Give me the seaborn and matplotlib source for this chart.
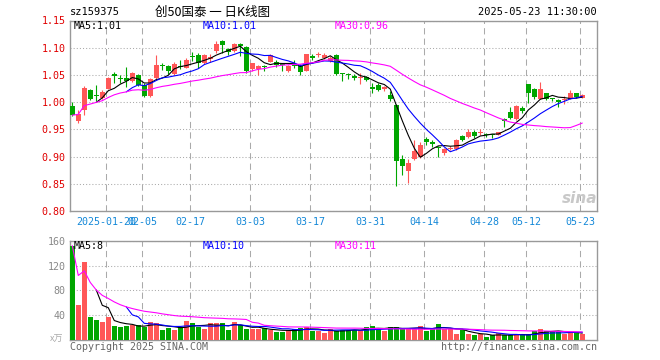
import matplotlib
matplotlib.use("Agg")
import matplotlib.pyplot as plt
import seaborn as sns
import numpy as np
import pandas as pd

# trading days (weekdays minus exchange holidays)
holidays = ["2025-01-28", "2025-01-29", "2025-01-30", "2025-01-31", "2025-02-03",
            "2025-02-04", "2025-04-04", "2025-05-01", "2025-05-02", "2025-05-05"]
dates = [d.strftime("%Y-%m-%d") for d in pd.bdate_range("2025-01-10", "2025-05-23")
         if d.strftime("%Y-%m-%d") not in holidays]

opens = [0.993, 0.965, 0.985, 1.022, 1.014, 1.008, 1.025, 1.051, 1.045, 1.044,
         1.039, 1.049, 1.032, 1.012, 1.044, 1.069, 1.066, 1.051, 1.066, 1.063,
         1.085, 1.086, 1.072, 1.079, 1.094, 1.113, 1.097, 1.094, 1.106, 1.102,
         1.060, 1.060, 1.067, 1.074, 1.074, 1.071, 1.057, 1.069, 1.066, 1.058,
         1.084, 1.086, 1.082, 1.076, 1.086, 1.053, 1.051, 1.048, 1.044, 1.047,
         1.027, 1.031, 1.025, 1.014, 0.994, 0.895, 0.874, 0.895, 0.899, 0.932,
         0.926, 0.918, 0.906, 0.914, 0.913, 0.937, 0.936, 0.945, 0.943, 0.942,
         0.942, 0.940, 0.969, 0.982, 0.969, 0.990, 1.034, 1.025, 1.006, 1.016,
         1.007, 1.004, 1.004, 1.006, 1.016, 1.008]
highs = [1.000, 0.986, 1.029, 1.024, 1.031, 1.022, 1.046, 1.055, 1.049, 1.064,
         1.055, 1.051, 1.036, 1.045, 1.086, 1.072, 1.068, 1.074, 1.077, 1.081,
         1.093, 1.091, 1.089, 1.089, 1.113, 1.114, 1.099, 1.108, 1.109, 1.104,
         1.072, 1.068, 1.068, 1.089, 1.078, 1.072, 1.068, 1.077, 1.070, 1.089,
         1.088, 1.093, 1.090, 1.084, 1.088, 1.054, 1.054, 1.052, 1.054, 1.048,
         1.035, 1.035, 1.029, 1.020, 0.996, 0.902, 0.895, 0.931, 0.926, 0.936,
         0.931, 0.919, 0.915, 0.920, 0.933, 0.939, 0.950, 0.948, 0.950, 0.943,
         0.942, 0.946, 0.971, 0.991, 0.994, 0.992, 1.034, 1.026, 1.037, 1.017,
         1.008, 1.005, 1.012, 1.023, 1.017, 1.015]
lows = [0.975, 0.962, 0.977, 1.004, 1.002, 1.006, 1.024, 1.036, 1.036, 1.028,
        1.037, 1.029, 1.010, 1.010, 1.043, 1.059, 1.052, 1.050, 1.061, 1.062,
        1.075, 1.063, 1.070, 1.073, 1.091, 1.091, 1.086, 1.092, 1.085, 1.054,
        1.057, 1.050, 1.057, 1.073, 1.065, 1.057, 1.056, 1.062, 1.050, 1.057,
        1.077, 1.083, 1.080, 1.074, 1.050, 1.039, 1.042, 1.040, 1.033, 1.038,
        1.017, 1.020, 1.020, 1.003, 0.846, 0.866, 0.851, 0.894, 0.898, 0.921,
        0.918, 0.899, 0.903, 0.912, 0.912, 0.928, 0.935, 0.935, 0.940, 0.936,
        0.934, 0.939, 0.955, 0.969, 0.968, 0.980, 0.999, 1.006, 1.005, 1.004,
        1.002, 0.991, 0.997, 1.005, 1.008, 1.007]
closes = [0.976, 0.979, 1.026, 1.005, 1.012, 1.018, 1.044, 1.048, 1.043, 1.038,
          1.053, 1.031, 1.011, 1.043, 1.069, 1.067, 1.057, 1.070, 1.064, 1.078,
          1.083, 1.072, 1.087, 1.083, 1.107, 1.105, 1.093, 1.106, 1.103, 1.057,
          1.071, 1.066, 1.065, 1.086, 1.069, 1.069, 1.066, 1.067, 1.056, 1.088,
          1.082, 1.088, 1.086, 1.082, 1.052, 1.051, 1.049, 1.044, 1.047, 1.040,
          1.025, 1.022, 1.028, 1.005, 0.892, 0.882, 0.888, 0.910, 0.922, 0.927,
          0.924, 0.915, 0.913, 0.916, 0.931, 0.930, 0.945, 0.938, 0.945, 0.939,
          0.940, 0.945, 0.965, 0.971, 0.993, 0.983, 1.016, 1.010, 1.025, 1.006,
          1.005, 1.000, 1.006, 1.016, 1.010, 1.014]
volumes = [152, 56, 126, 36.8, 32, 28.8, 36.8, 22.4, 20.8, 22.4,
           23.5, 23.5, 21.3, 28.8, 26.7, 16, 19.2, 16, 21.3, 30.4,
           26.7, 21.3, 18.1, 26.7, 26.7, 26.7, 16, 28.8, 23.5, 17,
           17, 17, 19.7, 16, 12.8, 12.8, 16, 18.1, 19.7, 21.3,
           14.4, 14.4, 10.7, 17.9, 14.2, 15.8, 16.8, 16.8, 15.8, 21,
           23, 17.9, 15.3, 21, 21, 17.9, 17.9, 17.9, 23, 15.3,
           17.9, 26.3, 17.9, 17.9, 8.9, 15.8, 10, 7.4, 8.9, 5.3,
           7.4, 11.6, 7.4, 7.4, 8.9, 8.9, 8.9, 14.2, 17.9, 14.2,
           14.2, 12.6, 8.9, 12.6, 12.6, 8.9]

tick_dates = ["2025-01-20", "2025-02-05", "2025-02-17", "2025-03-03", "2025-03-17",
              "2025-03-31", "2025-04-14", "2025-04-28", "2025-05-12", "2025-05-23"]
tick_labels = ["2025-01-20", "02-05", "02-17", "03-03", "03-17",
               "03-31", "04-14", "04-28", "05-12", "05-23"]
price_ticks = [0.80, 0.85, 0.90, 0.95, 1.00, 1.05, 1.10, 1.15]
vol_ticks = [0, 40, 80, 120, 160]

df = pd.DataFrame({"date": dates, "open": opens, "high": highs, "low": lows,
                   "close": closes, "volume": volumes})
df["x"] = np.arange(len(df))
df["ma5"] = df["close"].rolling(5).mean()
df["ma10"] = df["close"].rolling(10).mean()
df["ma30"] = df["close"].rolling(30, min_periods=1).mean()
df["vma5"] = df["volume"].rolling(5).mean()
df["vma10"] = df["volume"].rolling(10).mean()
df["vma30"] = df["volume"].rolling(30, min_periods=1).mean()

RED = "#ff5757"
GREEN = "#00a600"
GRID = "#aaaaaa"
up = df["close"] >= df["open"]
colors = np.where(up, RED, GREEN)

sns.set_theme(style="white")
plt.rcParams["font.family"] = ["DejaVu Sans Mono", "Noto Sans CJK SC"]

W, H = 660, 360
fig = plt.figure(figsize=(6.6, 3.6), dpi=100)
ax = fig.add_axes([70 / W, 1 - 211 / H, 527 / W, 190.5 / H])
ax2 = fig.add_axes([70 / W, 1 - 340 / H, 527 / W, 99.3 / H])

# candles
ax.vlines(df["x"], df["low"], df["high"], colors=colors, lw=0.8, zorder=3)
body = np.maximum((df["close"] - df["open"]).abs(), 0.0013)
ax.bar(df["x"], body, bottom=np.minimum(df["open"], df["close"]), width=0.82,
       color=colors, linewidth=0, zorder=3)
sns.lineplot(data=df, x="x", y="ma5", color="black", lw=0.8, ax=ax, zorder=4)
sns.lineplot(data=df, x="x", y="ma10", color="#0000ff", lw=0.8, ax=ax, zorder=4)
sns.lineplot(data=df, x="x", y="ma30", color="#ff00ff", lw=0.8, ax=ax, zorder=4)

# volume
ax2.bar(df["x"], df["volume"], width=0.85, color=colors, linewidth=0, zorder=3)
sns.lineplot(data=df, x="x", y="vma5", color="black", lw=0.8, ax=ax2, zorder=4)
sns.lineplot(data=df, x="x", y="vma10", color="#0000ff", lw=0.8, ax=ax2, zorder=4)
sns.lineplot(data=df, x="x", y="vma30", color="#ff00ff", lw=0.8, ax=ax2, zorder=4)

tick_pos = [dates.index(d) - 0.35 for d in tick_dates]
for a in (ax, ax2):
    a.set_xlim(-0.38, 87.45)
    a.set_xlabel("")
    a.set_ylabel("")
    a.set_xticks(tick_pos)
    a.tick_params(length=0)
    for s in a.spines.values():
        s.set_color("#999999")
        s.set_linewidth(1.0)
    a.xaxis.grid(True, color=GRID, lw=0.75, linestyle=(0, (6, 4)), zorder=0)
    a.yaxis.grid(True, color=GRID, lw=0.75, linestyle=(0, (1, 2)), zorder=0)

ax.set_ylim(0.80, 1.15)
ax.set_yticks(price_ticks)
ax.set_yticklabels([f"{t:.2f}" for t in price_ticks], color="#e00000", fontsize=7.2)
ax.set_xticklabels(tick_labels, color="#1488d8", fontsize=7.2)
ax.tick_params(axis="x", pad=4)
ax.tick_params(axis="y", pad=3)

ax2.set_ylim(0, 160)
ax2.set_yticks(vol_ticks)
ax2.set_yticklabels(["" if t == 0 else str(t) for t in vol_ticks], color="#888888", fontsize=7.2)
ax2.set_xticklabels([])
ax2.tick_params(axis="y", pad=3)


def px_text(x, y, s, **kw):
    fig.text(x / W, 1 - y / H, s, va="center", **kw)


px_text(70, 12, "sz159375", fontsize=7.5, color="black")
px_text(213, 12, "创50国泰 一 日K线图", ha="center", fontsize=9, color="black",
        family=["Noto Sans CJK SC", "DejaVu Sans"])
px_text(597, 12, "2025-05-23 11:30:00", ha="right", fontsize=7.5, color="black")

px_text(74, 26, "MA5:1.01", fontsize=7.2, color="black")
px_text(203, 26, "MA10:1.01", fontsize=7.2, color="#0000ff")
px_text(335, 26, "MA30:0.96", fontsize=7.2, color="#ff00ff")
px_text(74, 246, "MA5:8", fontsize=7.2, color="black")
px_text(203, 246, "MA10:10", fontsize=7.2, color="#0000ff")
px_text(335, 246, "MA30:11", fontsize=7.2, color="#ff00ff")

px_text(580, 198, "sina", ha="center", fontsize=11, color="#c8c8c8",
        fontweight="bold", style="italic", family="DejaVu Sans")
px_text(57, 339, "x万", ha="center", fontsize=6.5, color="#aaaaaa",
        family=["Noto Sans CJK SC", "DejaVu Sans"])
px_text(70, 347, "Copyright 2025 SINA.COM", fontsize=7.2, color="#666666")
px_text(597, 347, "http://finance.sina.com.cn", ha="right", fontsize=7.2, color="#666666")

fig.savefig("out.png", dpi=100)
